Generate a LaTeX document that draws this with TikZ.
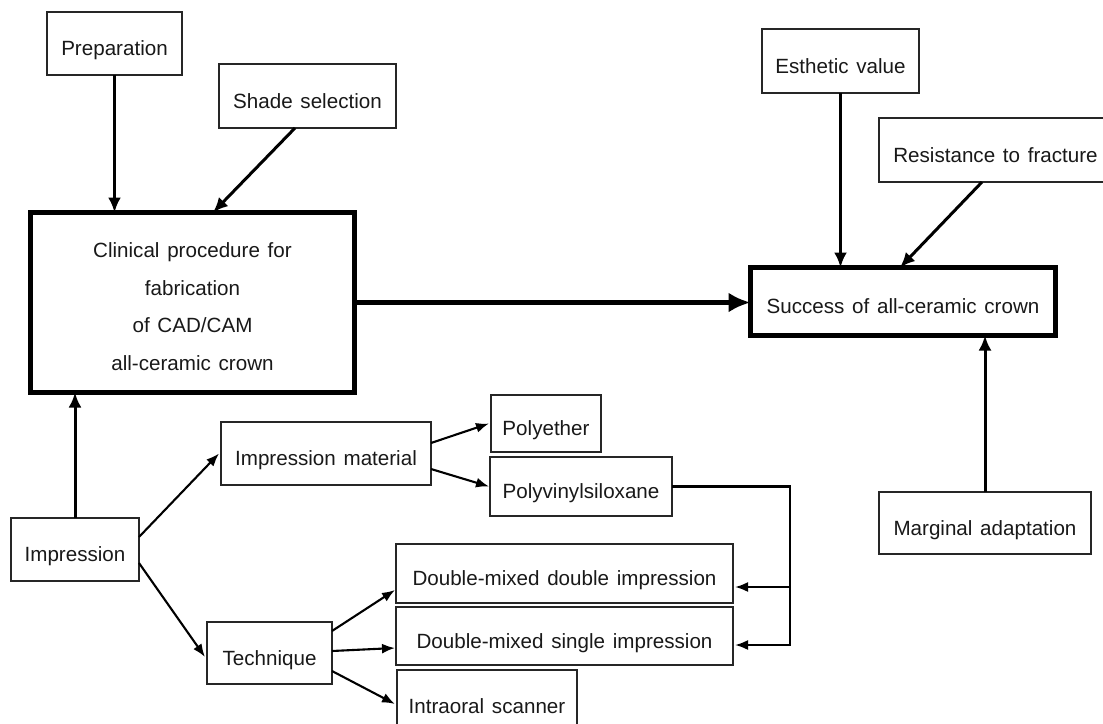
\documentclass[tikz,border=0pt]{standalone}
\usepackage{fontspec}
\setmainfont{Liberation Sans}[WordSpace=1.35]
\usetikzlibrary{arrows.meta,calc}
\newcommand\diagfont{\fontsize{20.6}{37.7}\selectfont}
\begin{document}
\begin{tikzpicture}[x=1pt,y=-1pt,
  box/.style={draw=black!85, line width=1.3pt, inner sep=0pt, outer sep=0pt, font=\diagfont, align=center, text=black!90, text height=26pt, text depth=2pt},
  thickbox/.style={draw=black, line width=5pt, inner sep=0pt, outer sep=0pt, font=\diagfont, align=center, text=black!90},
  arr/.style={line width=3pt, -{Latex[length=15pt,width=13pt]}},
  sarr/.style={line width=2.1pt, -{Latex[length=13pt,width=10pt]}},
  bigarr/.style={line width=5pt, -{Latex[length=22pt,width=20pt]}}
]
\useasboundingbox (0,0) rectangle (1103,723);
\fill[white] (0,0) rectangle (1103,723);

% top-left
\node[box, minimum width=135pt, minimum height=63pt] (prep) at (114.5,43.5) {Preparation};
\node[box, minimum width=177pt, minimum height=64pt] (shade) at (307.5,96) {Shade selection};
\node[thickbox, minimum width=324pt, minimum height=180pt] (clin) at (192.5,302.5)
  {\rule{0pt}{23pt}Clinical procedure for\\fabrication\\of CAD/CAM\\all-ceramic crown};

% right side
\node[box, minimum width=157pt, minimum height=64pt] (esth) at (840.5,61) {Esthetic value};
\node[box, minimum width=233pt, minimum height=64pt] (resist) at (995.5,150) {Resistance to fracture};
\node[thickbox, minimum width=305pt, minimum height=68pt, text height=26pt, text depth=2pt] (succ) at (903,301.5) {Success of all-ceramic crown};
\node[box, minimum width=212pt, minimum height=62pt] (marg) at (985,523) {Marginal adaptation};

% bottom-left
\node[box, minimum width=128pt, minimum height=63pt] (imp) at (75,549.5) {Impression};
\node[box, minimum width=210pt, minimum height=63pt] (impmat) at (326,453.5) {Impression material};
\node[box, minimum width=110pt, minimum height=57pt] (poly) at (546,423.5) {Polyether};
\node[box, minimum width=182pt, minimum height=59pt] (pvs) at (581,486.5) {Polyvinylsiloxane};
\node[box, minimum width=125pt, minimum height=62pt] (tech) at (269.5,653) {Technique};
\node[box, minimum width=337pt, minimum height=59pt] (dmdi) at (564.5,573.5) {Double-mixed double impression};
\node[box, minimum width=337pt, minimum height=58pt] (dmsi) at (564.5,636) {Double-mixed single impression};
\node[box, minimum width=180pt, minimum height=62pt] (intra) at (487,701) {Intraoral scanner};

% connectors
\draw[arr] (prep.south) -- (prep.south |- clin.north);
\draw[arr] ([xshift=-12.5pt]shade.south) -- ([xshift=20.5pt]clin.north);
\draw[arr] (esth.south) -- (esth.south |- succ.north);
\draw[arr] ([xshift=-13.5pt]resist.south) -- ([xshift=-3pt]succ.north);
\draw[arr] (marg.north) -- (marg.north |- succ.south);
\draw[bigarr] (clin.east) -- (clin.east -| succ.west);
\draw[arr] (imp.north) -- (imp.north |- clin.south);

\draw[sarr] ([yshift=12.5pt]imp.east) -- ([xshift=-2pt]impmat.west);
\draw[sarr] ([yshift=-13.5pt]imp.east) -- ([xshift=-2pt,yshift=-4pt]tech.west);
\draw[sarr] ([yshift=10.5pt]impmat.east) -- ([xshift=-2pt]poly.west);
\draw[sarr] ([yshift=-15.5pt]impmat.east) -- ([xshift=-1pt]pvs.west);
\draw[sarr] ([yshift=22pt]tech.east) -- ([xshift=-1pt,yshift=-16.5pt]dmdi.west);
\draw[sarr] ([yshift=2pt]tech.east) -- ([xshift=-1pt,yshift=-12pt]dmsi.west);
\draw[sarr] ([yshift=-18pt]tech.east) -- ([xshift=-2pt,yshift=-3pt]intra.west);

\coordinate (c1) at (790,587);
\coordinate (c2) at (790,645);
\draw[sarr] (pvs.east) -| (c2) -- ([xshift=2pt]c2 -| dmsi.east);
\draw[sarr] (c1) -- ([xshift=2pt]c1 -| dmdi.east);
\end{tikzpicture}
\end{document}
